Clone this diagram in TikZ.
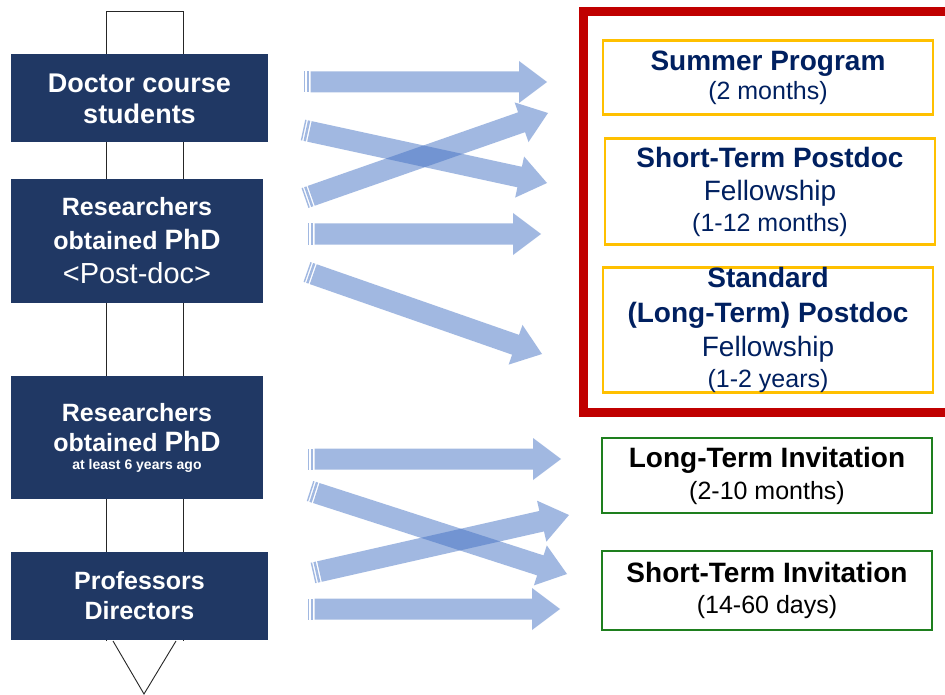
\documentclass[tikz,border=0pt]{standalone}
\usepackage{fontspec}
\setmainfont{Liberation Sans}
\usetikzlibrary{calc,positioning}
\definecolor{navy}{HTML}{203864}
\definecolor{ink}{HTML}{002060}
\definecolor{frame}{HTML}{C00000}
\definecolor{gold}{HTML}{FFC000}
\definecolor{leaf}{HTML}{1E7F1E}
\definecolor{bandblue}{HTML}{4472C4}
\newcommand{\sz}[2]{\fontsize{#1}{#2}\selectfont}
\tikzset{
  spine/.style={draw=black!85, line width=0.9pt},
  who/.style={fill=navy, text=white, align=center, inner sep=0pt},
  fellow/.style={draw=gold, line width=2.6pt, fill=white, text=ink, align=center,
    inner sep=0pt, minimum width=330pt},
  invite/.style={draw=leaf, line width=2.6pt, fill=white, text=black, align=center,
    inner sep=0pt, minimum width=330pt},
  redframe/.style={draw=frame, line width=9pt},
  band/.style={fill=bandblue, fill opacity=0.5},
}
% one piece of a band arrow, from #3 to #4 along tail #1 -> tip #2
\newcommand{\bandpiece}[4]{%
  \fill[band] ($(#1)!#3!(#2)!10.5pt!90:(#2)$) -- ($(#1)!#4!(#2)!10.5pt!90:(#2)$)
    -- ($(#1)!#4!(#2)!10.5pt!-90:(#2)$) -- ($(#1)!#3!(#2)!10.5pt!-90:(#2)$) -- cycle;}
% striped block arrow from tail #1 to tip #2
\newcommand{\bandarrow}[2]{%
  \bandpiece{#1}{#2}{0pt}{1.4pt}
  \bandpiece{#1}{#2}{2.8pt}{5.2pt}
  \coordinate (hb) at ($(#2)!28pt!(#1)$);
  \fill[band] ($(#1)!6.6pt!(#2)!10.5pt!90:(#2)$) -- ($(hb)!10.5pt!90:(#2)$)
    -- ($(hb)!21pt!90:(#2)$) -- (#2) -- ($(hb)!21pt!-90:(#2)$)
    -- ($(hb)!10.5pt!-90:(#2)$) -- ($(#1)!6.6pt!(#2)!10.5pt!-90:(#2)$) -- cycle;}

\begin{document}
\begin{tikzpicture}[x=1pt,y=-1pt]
\clip (0,0) rectangle (945,695);
\fill[white] (0,0) rectangle (945,695);

% career line
\draw[spine] (106,641) -- (106,11) -- (183,11) -- (183,641);
\draw[spine] (113,641) -- (144,694) -- (176,641);

% applicants
\node[who, minimum width=257pt, minimum height=88pt, font=\bfseries\sz{27}{31}] (doc) at (139.5,98.5)
  {Doctor course\\students};
\node[who, minimum width=252pt, minimum height=123pt, font=\bfseries\sz{25}{34}] (postdoc) at (137,241)
  {Researchers\\obtained {\sz{28}{34}PhD}\\{\mdseries\sz{29}{34}<Post-doc>}};
\node[who, minimum width=252pt, minimum height=123pt, font=\bfseries\sz{25}{30}] (senior) at (137,437.5)
  {Researchers\\obtained {\sz{28}{30}PhD}\\[-12pt]{\sz{14}{16}at least 6 years ago}};
\node[who, minimum width=257pt, minimum height=88pt, font=\bfseries\sz{25}{30}] (prof) at (139.5,596)
  {Professors\\Directors};

% fellowships
\draw[redframe] (583,11.5) rectangle (975,412);
\node[fellow, minimum height=74pt, font=\bfseries\sz{28}{29}] (summer) at (768,77.5)
  {Summer Program\\{\mdseries\sz{25}{29}(2 months)}};
\node[fellow, minimum height=106pt, font=\bfseries\sz{28}{33}] (short) at (770,191.5)
  {Short-Term Postdoc\\{\mdseries Fellowship}\\[-2pt]{\mdseries\sz{25}{31}(1-12 months)}};
\node[fellow, minimum height=124pt, font=\bfseries\sz{28}{34.5}] (standard) at (768,330)
  {Standard\\(Long-Term) Postdoc\\{\mdseries Fellowship}\\[-4pt]{\mdseries\sz{25}{30}(1-2 years)}};

% invitations
\node[invite, minimum height=75pt, font=\bfseries\sz{28}{32}] (longinv) at (767,475.5)
  {Long-Term Invitation\\{\mdseries\sz{25}{32}(2-10 months)}};
\node[invite, minimum height=79pt, font=\bfseries\sz{28}{31}] (shortinv) at (767,590.5)
  {Short-Term Invitation\\{\mdseries\sz{25}{31}(14-60 days)}};

% arrow ends
\coordinate (t1) at (304,82);  \coordinate (h1) at (547,82);
\coordinate (t2) at (303,130); \coordinate (h2) at (547,183);
\coordinate (t3) at (305,198); \coordinate (h3) at (548,113);
\coordinate (t4) at (308,234); \coordinate (h4) at (541,234);
\coordinate (t5) at (307,272); \coordinate (h5) at (542,354);
\coordinate (t6) at (308,459); \coordinate (h6) at (561,459);
\coordinate (t7) at (310,491); \coordinate (h7) at (567,574);
\coordinate (t8) at (313,573); \coordinate (h8) at (569,515);
\coordinate (t9) at (308,609); \coordinate (h9) at (560,609);
\foreach \k in {1,...,9}
  \bandarrow{t\k}{h\k};
\end{tikzpicture}
\end{document}
